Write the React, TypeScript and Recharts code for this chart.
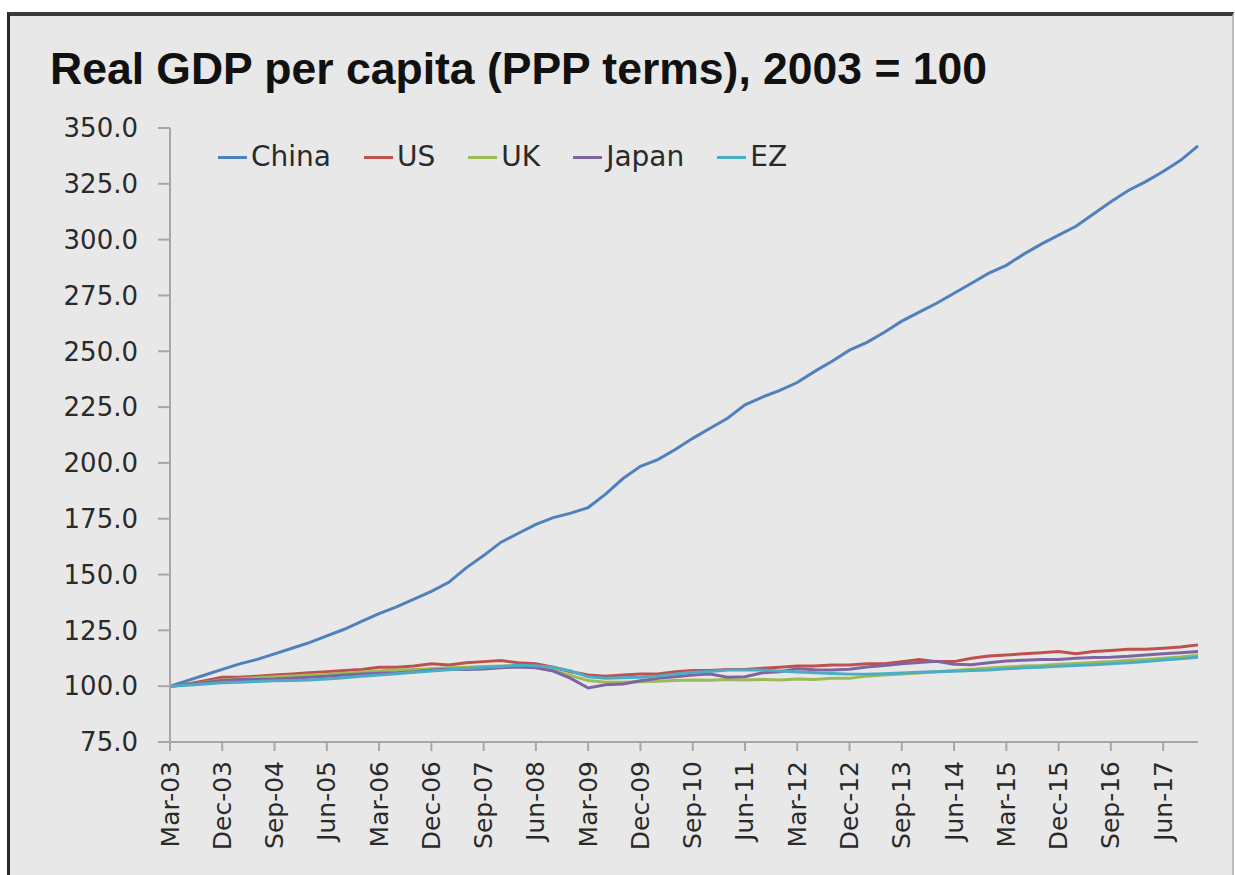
import React from 'react';
import { LineChart, Line, XAxis, YAxis } from 'recharts';

const QUARTERS = [
  'Mar-03','Jun-03','Sep-03','Dec-03','Mar-04','Jun-04','Sep-04','Dec-04',
  'Mar-05','Jun-05','Sep-05','Dec-05','Mar-06','Jun-06','Sep-06','Dec-06',
  'Mar-07','Jun-07','Sep-07','Dec-07','Mar-08','Jun-08','Sep-08','Dec-08',
  'Mar-09','Jun-09','Sep-09','Dec-09','Mar-10','Jun-10','Sep-10','Dec-10',
  'Mar-11','Jun-11','Sep-11','Dec-11','Mar-12','Jun-12','Sep-12','Dec-12',
  'Mar-13','Jun-13','Sep-13','Dec-13','Mar-14','Jun-14','Sep-14','Dec-14',
  'Mar-15','Jun-15','Sep-15','Dec-15','Mar-16','Jun-16','Sep-16','Dec-16',
  'Mar-17','Jun-17','Sep-17','Dec-17',
];

const CHINA = [
  100, 102.5, 105, 107.5, 110, 112, 114.5, 117, 119.5, 122.5,
  125.5, 129, 132.5, 135.5, 139, 142.5, 146.5, 153, 158.5, 164.5,
  168.5, 172.5, 175.5, 177.5, 180, 186, 193, 198.5, 201.5, 206,
  211, 215.5, 220, 226, 229.5, 232.5, 236, 241, 245.5, 250.5,
  254, 258.5, 263.5, 267.5, 271.5, 276, 280.5, 285, 288.5, 293.5,
  298, 302, 306, 311.5, 317, 322, 326, 330.5, 335.5, 342,
];

const US = [
  100, 101, 102.5, 104, 104, 104.5, 105, 105.5, 106, 106.5,
  107, 107.5, 108.5, 108.5, 109, 110, 109.5, 110.5, 111, 111.5,
  110.5, 110, 108.5, 106.5, 105, 104.5, 105, 105.5, 105.5, 106.5,
  107, 107, 107.5, 107.5, 108, 108.5, 109, 109, 109.5, 109.5,
  110, 110, 111, 112, 111, 111, 112.5, 113.5, 114, 114.5,
  115, 115.5, 114.5, 115.5, 116, 116.5, 116.5, 117, 117.5, 118.5,
];

const UK = [
  100, 100.8, 101.8, 102.8, 103.3, 103.8, 104.2, 104.6, 105, 105.3,
  105.8, 106.3, 106.8, 107.2, 107.5, 107.8, 108.2, 108.5, 108.8, 109,
  109, 108.3, 107, 104.8, 102.5, 101.8, 101.8, 102, 102.2, 102.6,
  102.8, 102.7, 103, 102.8, 103, 102.8, 103.2, 103, 103.5, 103.5,
  104.5, 105, 105.4, 105.9, 106.5, 107, 107.6, 108.2, 108.6, 109,
  109.3, 109.8, 110.2, 110.6, 111, 111.6, 112, 112.5, 113.1, 113.9,
];

const JAPAN = [
  100, 100.8, 101.6, 102.5, 103, 103, 103.2, 103.6, 104, 104.4,
  105, 105.5, 105.8, 106, 106.5, 107.3, 107.6, 107.5, 107.7, 108.3,
  108.6, 108.2, 106.8, 103.5, 99.2, 100.6, 101, 102.4, 103.5, 104.2,
  105, 105.5, 104, 104.2, 106, 106.5, 107.8, 107.4, 107.2, 107.6,
  108.6, 109.3, 110, 110.6, 111.2, 109.8, 109.6, 110.5, 111.3, 111.6,
  112, 112, 112.5, 112.8, 113, 113.4, 114, 114.5, 115, 115.5,
];

const EZ = [
  100, 100.4, 101, 101.5, 101.8, 102.1, 102.4, 102.6, 102.8, 103.2,
  103.8, 104.4, 105, 105.6, 106.2, 106.8, 107.4, 107.9, 108.4, 108.8,
  109.4, 109.2, 108.5, 106.8, 104.2, 103.6, 103.8, 104, 104.6, 105.5,
  106.2, 106.6, 107.2, 107.3, 107.2, 106.8, 106.4, 106, 105.7, 105.4,
  105.3, 105.6, 105.9, 106.2, 106.5, 106.7, 107, 107.3, 107.8, 108.2,
  108.5, 108.9, 109.3, 109.6, 110, 110.5, 111.1, 111.7, 112.3, 113,
];

const Y_TICKS = [75, 100, 125, 150, 175, 200, 225, 250, 275, 300, 325, 350];

const SERIES = [
  { key: 'China', color: '#4F81BD', values: CHINA },
  { key: 'US', color: '#C0504D', values: US },
  { key: 'UK', color: '#9BBB59', values: UK },
  { key: 'Japan', color: '#8064A2', values: JAPAN },
  { key: 'EZ', color: '#4BACC6', values: EZ },
];

const DATA = QUARTERS.map((q, i) => {
  const row: Record<string, string | number> = { q };
  SERIES.forEach((s) => {
    row[s.key] = s.values[i];
  });
  return row;
});

const TICK_FONT = '"DejaVu Sans", sans-serif';

const XTick = (props: any) => {
  const { x, y, payload } = props;
  return (
    <text
      x={x}
      y={y}
      transform={`rotate(-90, ${x}, ${y})`}
      textAnchor="end"
      dominantBaseline="central"
      fontFamily={TICK_FONT}
      fontSize={25}
      fill="#2a2a2a"
    >
      {payload.value}
    </text>
  );
};

export default function App() {
  return (
    <div style={{ position: 'absolute', left: 0, top: 0, width: 1235, height: 875, background: '#fff', overflow: 'hidden' }}>
      <div
        style={{
          position: 'absolute',
          left: 7,
          top: 12,
          width: 1227,
          height: 870,
          boxSizing: 'border-box',
          borderTop: '4px solid #3a3a3a',
          borderLeft: '3px solid #2a2a2a',
          borderRight: '2px solid #bbb',
          background: '#e8e8e8',
        }}
      />
      <div
        style={{
          position: 'absolute',
          left: 50,
          top: 47,
          lineHeight: '44px',
          fontFamily: '"Liberation Sans", Arial, sans-serif',
          fontWeight: 'bold',
          fontSize: 44.5,
          color: '#111',
          whiteSpace: 'nowrap',
        }}
      >
        Real GDP per capita (PPP terms), 2003 = 100
      </div>
      <div style={{ position: 'absolute', left: 0, top: 0 }}>
        <LineChart width={1235} height={875} data={DATA} margin={{ top: 128, right: 37, bottom: 0, left: 0 }}>
          <XAxis
            dataKey="q"
            interval={2}
            height={133}
            tick={<XTick />}
            tickSize={9}
            tickMargin={10}
            axisLine={{ stroke: '#a6a6a6', strokeWidth: 2 }}
            tickLine={{ stroke: '#a6a6a6', strokeWidth: 2 }}
            padding={{ left: 0, right: 0 }}
          />
          <YAxis
            domain={[75, 350]}
            ticks={Y_TICKS}
            width={170}
            tickSize={12}
            tickMargin={20}
            tickFormatter={(v: number) => v.toFixed(1)}
            tick={{ fontFamily: TICK_FONT, fontSize: 26, fill: '#2a2a2a' }}
            axisLine={{ stroke: '#a6a6a6', strokeWidth: 2 }}
            tickLine={{ stroke: '#a6a6a6', strokeWidth: 2 }}
            allowDataOverflow
          />
          {SERIES.map((s) => (
            <Line
              key={s.key}
              type="linear"
              dataKey={s.key}
              stroke={s.color}
              strokeWidth={3}
              dot={false}
              activeDot={false}
              isAnimationActive={false}
            />
          ))}
        </LineChart>
      </div>
      <div
        style={{
          position: 'absolute',
          left: 218,
          top: 141,
          display: 'flex',
          alignItems: 'center',
          fontFamily: TICK_FONT,
          fontSize: 28,
          lineHeight: '32px',
          color: '#2a2a2a',
        }}
      >
        {SERIES.map((s) => (
          <div key={s.key} style={{ display: 'flex', alignItems: 'center', marginRight: 33 }}>
            <div style={{ width: 29, height: 3, background: s.color, marginRight: 4 }} />
            <span>{s.key}</span>
          </div>
        ))}
      </div>
    </div>
  );
}
